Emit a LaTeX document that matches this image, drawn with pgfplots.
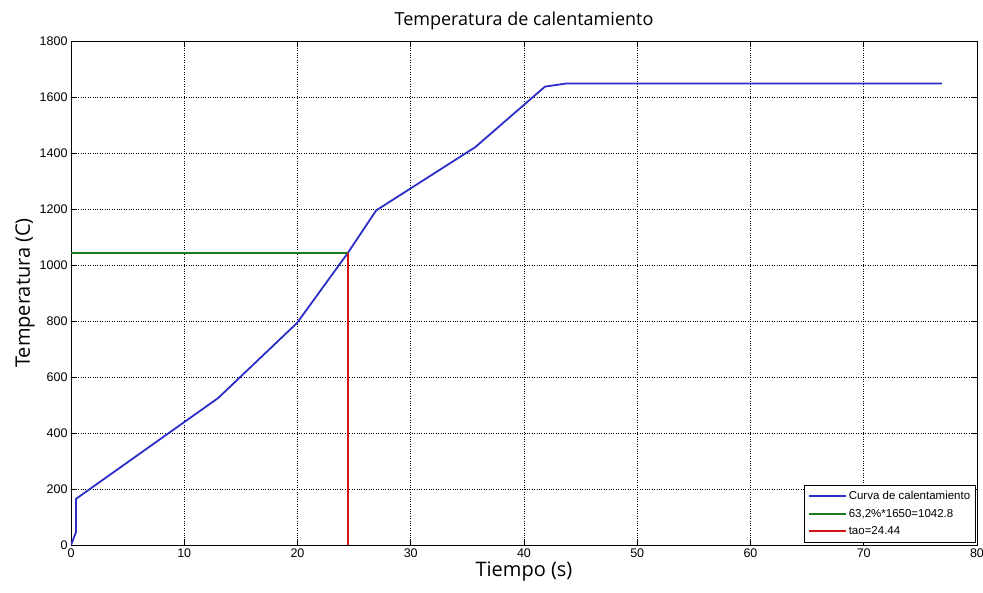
\documentclass[border=0pt]{standalone}
\usepackage{fontspec}
\setmainfont{Liberation Sans}
\newfontfamily\labfont{Open Sans}
\usepackage{pgfplots}
\pgfplotsset{compat=1.18}
\definecolor{cblue}{RGB}{45,45,200}
\definecolor{cgreen}{RGB}{30,120,30}
\definecolor{cred}{RGB}{210,20,20}
\begin{document}
\begin{tikzpicture}[x=1pt,y=1pt]
\path[use as bounding box] (-71,-48) rectangle (912,545);
\begin{axis}[
  at={(0,0)}, anchor=south west,
  scale only axis, width=906pt, height=504pt,
  xmin=0, xmax=80, ymin=0, ymax=1800,
  xtick={0,10,...,80}, ytick={0,200,...,1800},
  tick align=inside, tick pos=both,
  major tick length=6pt,
  grid=major, grid style={black, dotted, line width=0.8pt},
  axis line style={black, line width=0.8pt},
  tick style={black, line width=0.8pt},
  /pgf/number format/assume math mode=true,
  /pgf/number format/1000 sep={},
  ticklabel style={font=\fontsize{12.5}{14}\selectfont},
  title={\labfont\fontsize{18}{20}\selectfont Temperatura de calentamiento},
  title style={yshift=2pt},
  xlabel={\labfont\fontsize{20}{22}\selectfont Tiempo (s)},
  ylabel={\labfont\fontsize{20}{22}\selectfont Temperatura (C)},
  xlabel style={yshift=2pt},
  ylabel style={yshift=-2pt},
  legend style={at={(0.9985,0.005)}, anchor=south east, font=\fontsize{11.5}{13}\selectfont,
    draw=black, line width=0.8pt, inner xsep=3pt, inner ysep=4pt, row sep=4pt},
  legend cell align=left,
  legend image code/.code={\draw[#1, line width=2pt] (0cm,0cm) -- (1.3cm,0cm);},
]
\addplot[draw=cblue, line width=1.8pt, mark=none] coordinates {
 (0,0) (0.15,15) (0.45,47) (0.45,165) (13.0,525) (19.96,793) (24.44,1042.8)
 (26.95,1195) (35.7,1421) (41.85,1637) (43.7,1648) (76.9,1648)};
\addlegendentry{Curva de calentamiento}
\addplot[draw=cgreen, line width=2pt, mark=none] coordinates {(0,1042.8) (24.44,1042.8)};
\addlegendentry{63,2\%*1650=1042.8}
\addplot[draw=cred, line width=2pt, mark=none] coordinates {(24.44,0) (24.44,1042.8)};
\addlegendentry{tao=24.44}
\end{axis}
\end{tikzpicture}
\end{document}
